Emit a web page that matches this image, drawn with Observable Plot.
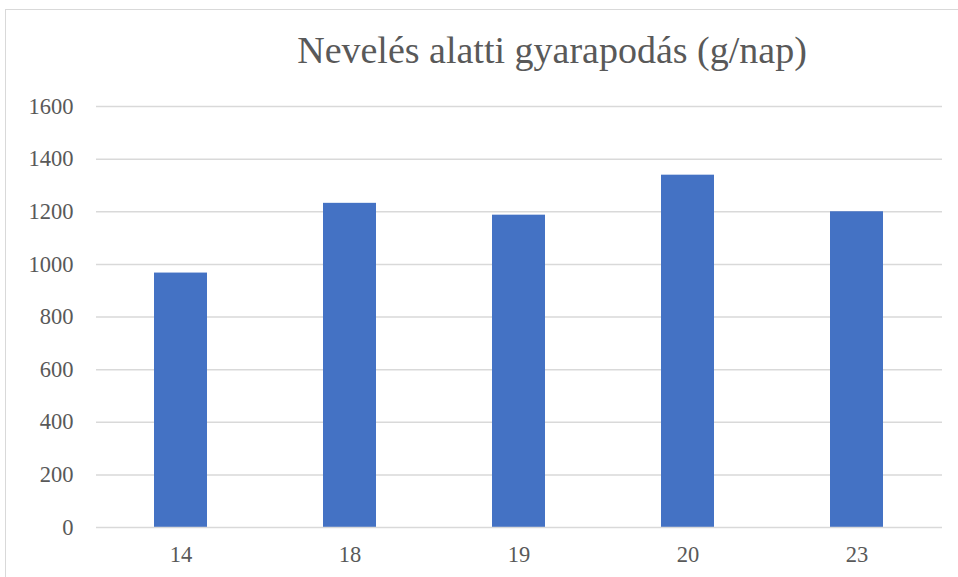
<!DOCTYPE html>
<html>
<head>
<meta charset="utf-8">
<script src="https://cdn.jsdelivr.net/npm/d3@7"></script>
<script src="https://cdn.jsdelivr.net/npm/@observablehq/plot@0.6"></script>
<style>
  body { margin: 0; background: #fff; }
  #wrap { position: relative; width: 958px; height: 577px; overflow: hidden; background: #fff; }
  #frame { position: absolute; left: 5px; top: 9px; width: 965px; height: 590px; border: 1.5px solid #d9d9d9; box-sizing: border-box; }
  #chart { position: absolute; left: 0; top: 0; }
  #chart svg, #chart svg text { font-family: 'Liberation Serif' !important; }
</style>
</head>
<body>
<div id="wrap">
  <div id="frame"></div>
  <div id="chart"></div>
  <div id="title" style="position:absolute; left:152px; width:800px; top:31px; text-align:center; font-family:'Liberation Serif'; font-size:38px; line-height:38px; color:#595959;">Nevelés alatti gyarapodás (g/nap)</div>
</div>
<script>
const categories = ["14", "18", "19", "20", "23"];
const values = [967, 1232, 1187, 1339, 1200];
const yTicks = [0, 200, 400, 600, 800, 1000, 1200, 1400, 1600];

const data = categories.map((c, i) => ({cat: c, val: values[i]}));

const chart = Plot.plot({
  width: 958,
  height: 577,
  marginLeft: 96,
  marginRight: 16,
  marginTop: 106,
  marginBottom: 50,
  style: {fontFamily: "'Liberation Serif'", fontSize: "22.5px", color: "#595959", background: "transparent"},
  x: {domain: categories, paddingInner: 0.686, paddingOuter: 0.343, label: null, tickSize: 0, tickPadding: 19},
  y: {domain: [0, 1600], ticks: yTicks, tickFormat: d => String(d), label: null, tickSize: 0, tickPadding: 23},
  marks: [
    Plot.ruleY(yTicks.filter(d => d > 0), {stroke: "#d9d9d9", strokeWidth: 1.5}),
    Plot.barY(data, {x: "cat", y: "val", fill: "#4472C4"}),
    Plot.ruleY([0], {stroke: "#d9d9d9", strokeWidth: 1.5})
  ]
});
document.getElementById("chart").appendChild(chart);
</script>
</body>
</html>
